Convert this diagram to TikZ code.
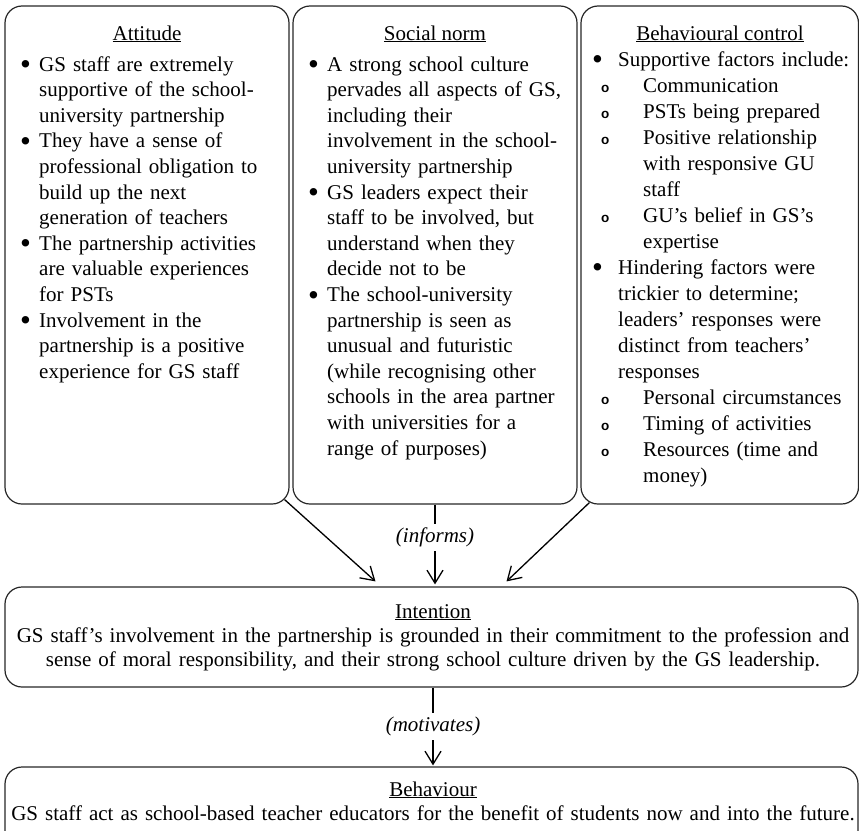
\documentclass[tikz,border=0pt]{standalone}
\usepackage{fontspec}
\setmainfont{Liberation Serif}
\newfontfamily\subbulfont{Liberation Sans}
\usetikzlibrary{arrows.meta,calc}
\newcommand{\bigbul}{{\fontsize{31}{31}\selectfont\raisebox{-3.6pt}{\textbullet}}}
\newcommand{\bitem}[3]{\hangindent=#2pt\hangafter=1\noindent\makebox[#2pt][l]{\hspace*{#1pt}\bigbul}#3\par}
\newcommand{\sitem}[3]{\hangindent=#2pt\hangafter=1\noindent\makebox[#2pt][l]{\hspace*{#1pt}{\fontsize{13.5}{13.5}\subbulfont\bfseries o}}#3\par}
\tikzset{
  box/.style={draw=black!85, line width=1.2pt, rounded corners=17pt, inner sep=0pt},
  hdr/.style={anchor=base, inner sep=0pt, font=\fontsize{21}{25.5}\selectfont},
  body/.style={anchor=base west, inner sep=0pt, align=left, text width=268pt, font=\fontsize{21}{25.6}\selectfont},
  bodyc/.style={anchor=base west, inner sep=0pt, align=left, text width=268pt, font=\fontsize{21}{26}\selectfont},
  cbody/.style={anchor=base, inner sep=0pt, align=center, text width=850pt, font=\fontsize{21}{24}\selectfont},
  arr/.style={-{Straight Barb[length=13pt,width=16pt,line width=1.3pt]}, line width=1.3pt, black},
  lbl/.style={fill=white, inner sep=4pt, font=\fontsize{21}{24}\selectfont\itshape}
}
\begin{document}
\begin{tikzpicture}[x=1pt,y=-1pt]
\useasboundingbox (0,0) rectangle (859,830);
\clip (0,0) rectangle (859,830);
% boxes
\node[box, minimum width=284pt, minimum height=498pt] (att) at (147,255) {};
\node[box, minimum width=284pt, minimum height=498pt] (soc) at (435,255) {};
\node[box, minimum width=277.5pt, minimum height=498pt] (beh) at (719.75,255) {};
\node[box, minimum width=853pt, minimum height=100pt] (int) at (431.5,637) {};
\node[box, minimum width=853pt, minimum height=100pt] (bvr) at (431.5,817) {};
% headers
\node[hdr] (h1) at (147,40) {\underline{Attitude}};
\node[hdr] (h2) at (435,40) {\underline{Social norm}};
\node[hdr] (h3) at (720,40) {\underline{Behavioural control}};
% bodies
\node[body] (b1) at (5,71) {%
\bitem{15}{34}{GS staff are extremely\newline supportive of the school-\newline university partnership}%
\bitem{15}{34}{They have a sense of\newline professional obligation to\newline build up the next\newline generation of teachers}%
\bitem{15}{34}{The partnership activities\newline are valuable experiences\newline for PSTs}%
\bitem{15}{34}{Involvement in the\newline partnership is a positive\newline experience for GS staff}};
\node[body] (b2) at (293,71) {%
\bitem{15}{34}{A strong school culture\newline pervades all aspects of GS,\newline including their\newline involvement in the school-\newline university partnership}%
\bitem{15}{34}{GS leaders expect their\newline staff to be involved, but\newline understand when they\newline decide not to be}%
\bitem{15}{34}{The school-university\newline partnership is seen as\newline unusual and futuristic\newline (while recognising other\newline schools in the area partner\newline with universities for a\newline range of purposes)}};
\node[bodyc] (b3) at (581,66) {%
\bitem{11}{37}{Supportive factors include:}%
\sitem{20}{62}{Communication}%
\sitem{20}{62}{PSTs being prepared}%
\sitem{20}{62}{Positive relationship\newline with responsive GU\newline staff}%
\sitem{20}{62}{GU’s belief in GS’s\newline expertise}%
\bitem{11}{37}{Hindering factors were\newline trickier to determine;\newline leaders’ responses were\newline distinct from teachers’\newline responses}%
\sitem{20}{62}{Personal circumstances}%
\sitem{20}{62}{Timing of activities}%
\sitem{20}{62}{Resources (time and\newline money)}};
% intention
\node[hdr] (h4) at (433,618) {\underline{Intention}};
\node[cbody] (b4) at (433,642) {GS staff’s involvement in the partnership is grounded in their commitment to the profession and\\ sense of moral responsibility, and their strong school culture driven by the GS leadership.};
% behaviour
\node[hdr] (h5) at (433,796) {\underline{Behaviour}};
\node[cbody] (b5) at (433,820) {GS staff act as school-based teacher educators for the benefit of students now and into the future.};
% connectors
\draw[arr] ($(att.south east)+(-5,-5)$) -- ($(int.north)+(-56,-5)$);
\draw[arr] ($(beh.south west)+(9,-2)$) -- ($(int.north)+(75,-5)$);
\draw[arr] ($(soc.south)$) -- node[lbl, pos=0.41] (inf) {(informs)} ($(int.north)+(3.5,-2)$);
\draw[arr] ($(int.south)+(1.5,0)$) -- node[lbl, pos=0.5] (mot) {(motivates)} ($(bvr.north)+(1.5,-1)$);
\end{tikzpicture}
\end{document}
